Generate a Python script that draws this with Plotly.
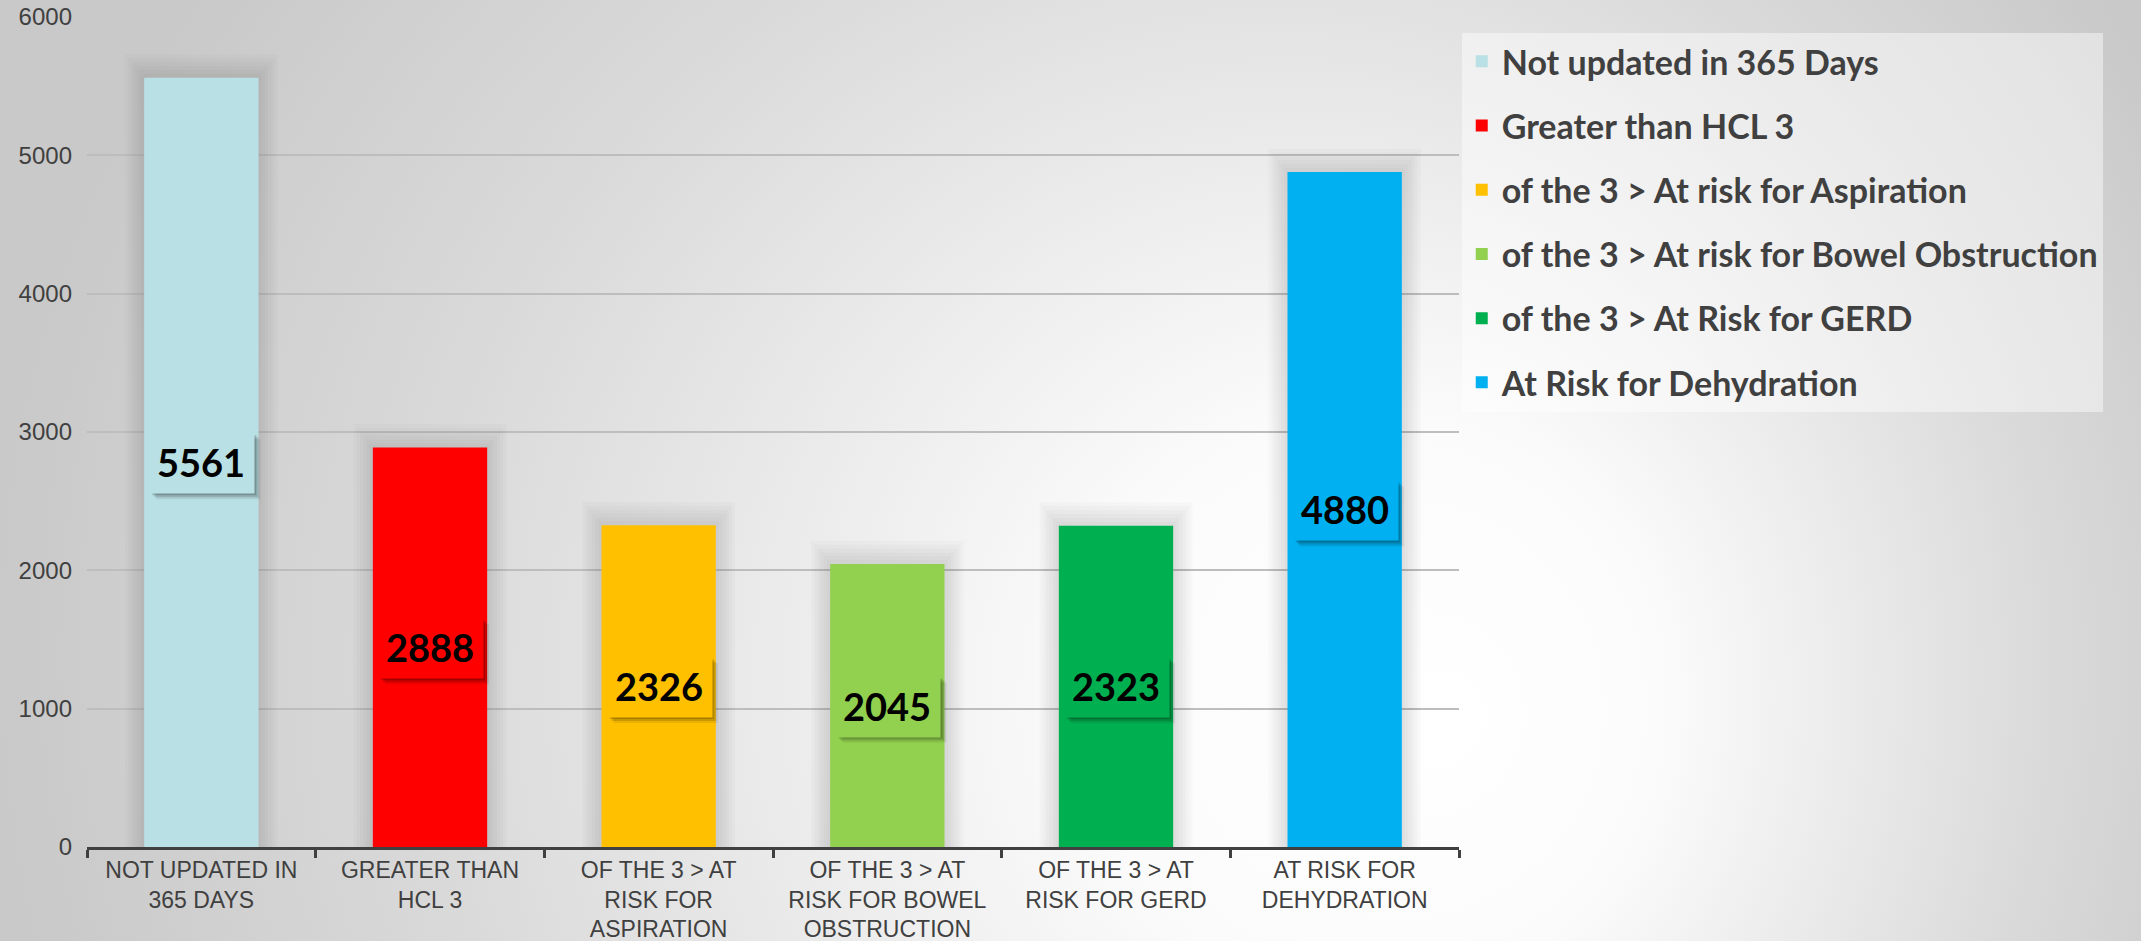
import base64
import plotly.graph_objects as go

categories = ["Not updated in 365 Days", "Greater than HCL 3",
              "of the 3 > At risk for Aspiration",
              "of the 3 > At risk for Bowel Obstruction",
              "of the 3 > At Risk for GERD", "At Risk for Dehydration"]
tick_labels = ["NOT UPDATED IN<br>365 DAYS", "GREATER THAN<br>HCL 3",
               "OF THE 3 &gt; AT<br>RISK FOR<br>ASPIRATION",
               "OF THE 3 &gt; AT<br>RISK FOR BOWEL<br>OBSTRUCTION",
               "OF THE 3 &gt; AT<br>RISK FOR GERD", "AT RISK FOR<br>DEHYDRATION"]
values = [5561, 2888, 2326, 2045, 2323, 4880]
colors = ["#b9e0e4", "#ff0000", "#ffc000", "#92d050", "#00b050", "#00b0f0"]

W, H = 2141, 941
ML, MR, MT, MB = 87, 682, 17, 94
PW, PH = W - ML - MR, H - MT - MB

fig = go.Figure()

# soft shadows behind bars
for k in range(6, 0, -1):
    for cat, v in zip(categories, values):
        fig.add_trace(go.Bar(x=[cat], y=[v + 28 * k], width=0.5 + 0.028 * k, showlegend=False,
                             marker=dict(color="rgba(80,80,80,0.028)", line=dict(width=0)),
                             hoverinfo="skip"))

for i, (cat, v, c) in enumerate(zip(categories, values, colors)):
    fig.add_trace(go.Bar(x=[cat], y=[v], name=cat, width=0.5, legendgroup=f"g{i}",
                         marker=dict(color=c, line=dict(width=0))))

# label drop shadows (pixel-sized shapes anchored at the label centre)
shapes = []
for i, v in enumerate(values):
    for d, a in [(7, 0.08), (5, 0.14), (3, 0.18)]:
        shapes.append(dict(type="rect", xref="x", yref="y", xsizemode="pixel", ysizemode="pixel",
                           xanchor=i, yanchor=v / 2, x0=-52 + d, x1=52 + d, y0=-30 - d, y1=30 - d,
                           fillcolor=f"rgba(0,0,0,{a})", line=dict(width=0), layer="above"))

annotations = []
for cat, v, c in zip(categories, values, colors):
    annotations.append(dict(x=cat, y=v / 2, xref="x", yref="y", text=f"<b>{v}</b>",
                            showarrow=False, width=104, height=60, bgcolor=c,
                            font=dict(family="Lato", size=38, color="#000000")))

svg = ('<svg xmlns="http://www.w3.org/2000/svg" width="2141" height="941" viewBox="0 0 2141 941" '
       'preserveAspectRatio="none"><defs><radialGradient id="g" gradientUnits="userSpaceOnUse" '
       'cx="1150" cy="650" r="1150" fx="1450" fy="720">'
       '<stop offset="0" stop-color="#ffffff"/><stop offset="0.25" stop-color="#fbfbfb"/>'
       '<stop offset="0.7" stop-color="#dadada"/><stop offset="1" stop-color="#c9c9c9"/>'
       '</radialGradient></defs><rect width="2141" height="941" fill="url(#g)"/></svg>')
src = "data:image/svg+xml;base64," + base64.b64encode(svg.encode()).decode()

fig.update_layout(
    width=W, height=H,
    margin=dict(l=ML, r=MR, t=MT, b=MB, autoexpand=False),
    barmode="overlay",
    paper_bgcolor="#d6d6d6",
    plot_bgcolor="rgba(0,0,0,0)",
    images=[dict(source=src, xref="paper", yref="paper", x=-ML / PW, y=1 + MT / PH,
                 sizex=W / PW, sizey=H / PH, sizing="stretch", layer="below",
                 xanchor="left", yanchor="top")],
    shapes=shapes,
    annotations=annotations,
    showlegend=True,
    legend=dict(x=1.002, y=0.981, xanchor="left", yanchor="top",
                bgcolor="rgba(255,255,255,0.45)", borderwidth=0,
                font=dict(family="Lato", size=34, color="#404040", weight="bold"),
                tracegroupgap=17, traceorder="grouped", itemwidth=30),
    xaxis=dict(categoryorder="array", categoryarray=categories,
               tickvals=categories, ticktext=tick_labels, automargin=False,
               showline=True, linecolor="#404040", linewidth=3,
               ticks="outside", tickson="boundaries", ticklen=8, tickwidth=3,
               tickcolor="#404040", showgrid=False,
               tickfont=dict(family="Liberation Sans", size=23, color="#404040")),
    yaxis=dict(range=[0, 6000], dtick=1000, showgrid=True, gridcolor="#bdbdbd",
               gridwidth=1.5, zeroline=False, showline=False, ticks="",
               ticklabelstandoff=14, automargin=False,
               tickfont=dict(family="Liberation Sans", size=24, color="#404040")),
)

fig.write_html("out.html")
